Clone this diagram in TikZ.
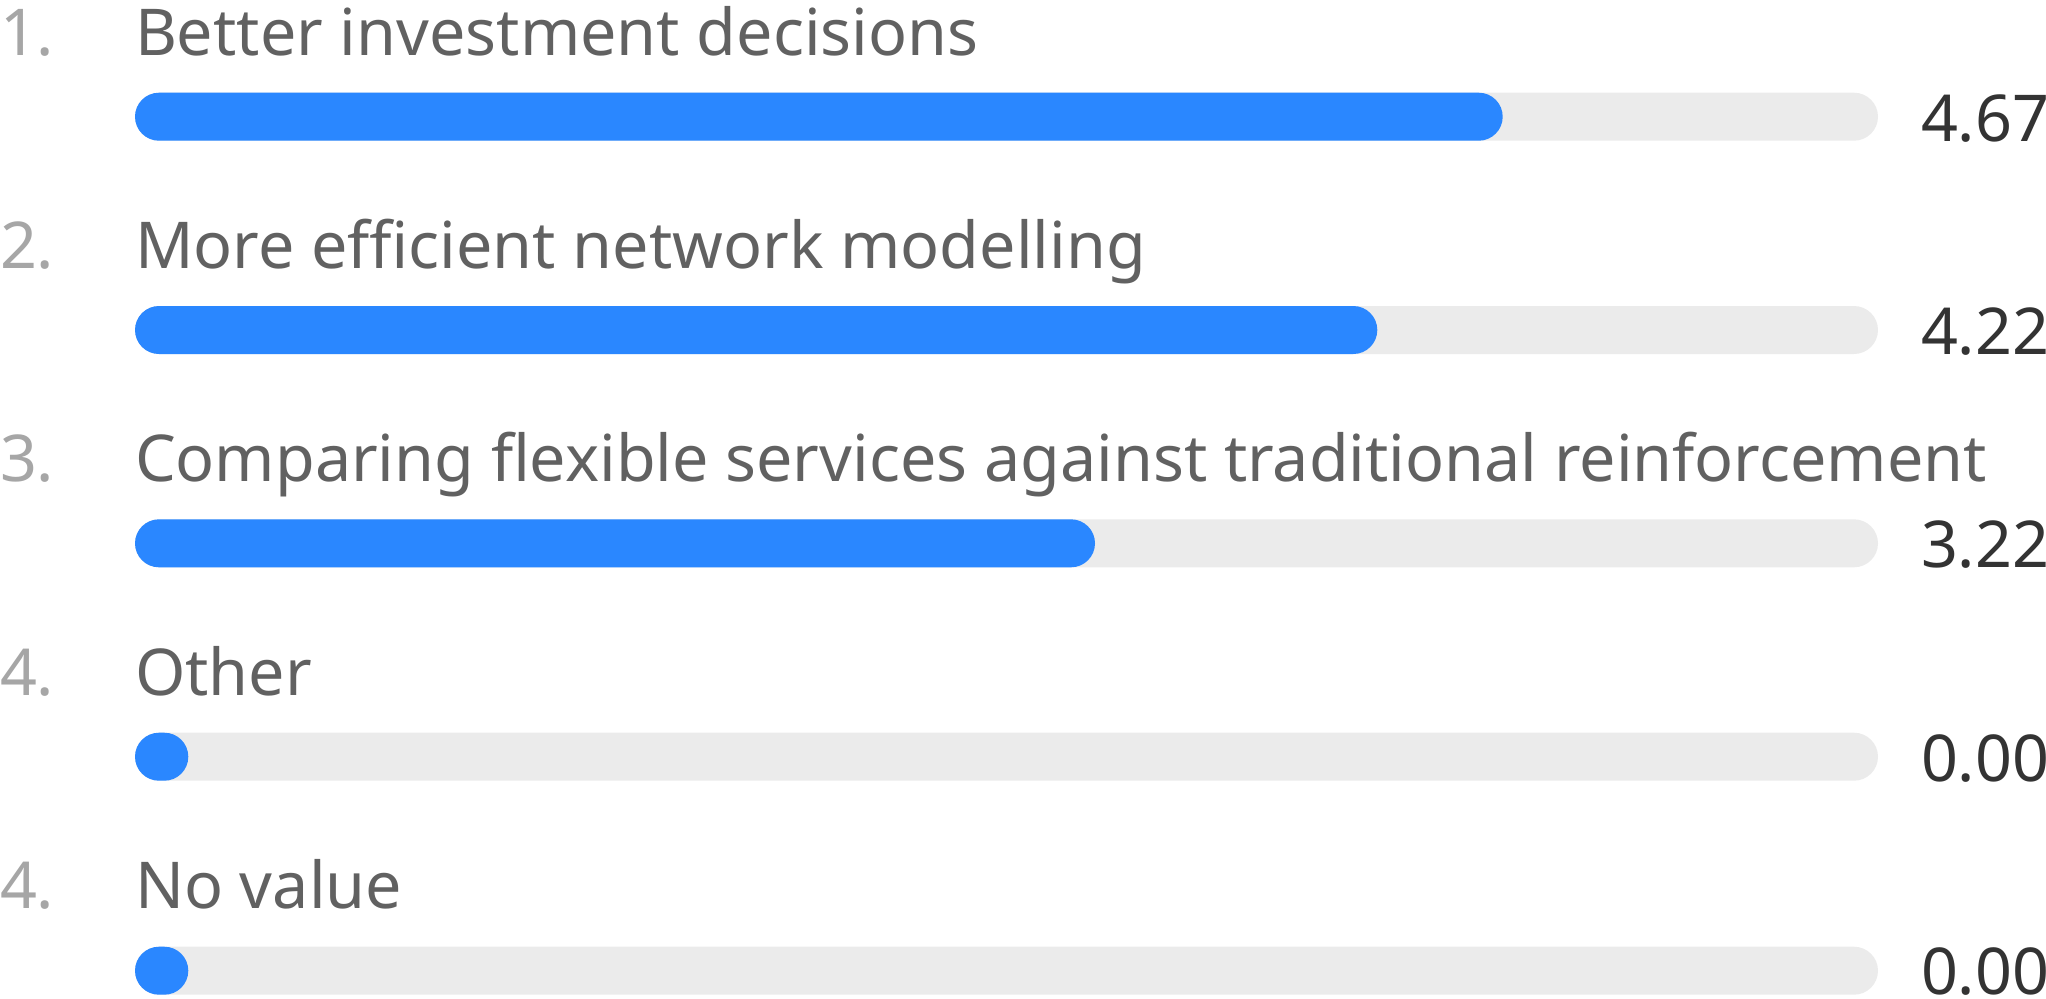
\documentclass[tikz,border=0pt]{standalone}
\usepackage{fontspec}
\setmainfont{Noto Sans}
\definecolor{barblue}{RGB}{42,135,255}
\definecolor{bargray}{RGB}{235,235,235}
\definecolor{labgray}{RGB}{97,97,97}
\definecolor{numgray}{RGB}{166,166,166}
\definecolor{valgray}{RGB}{51,51,51}
\begin{document}
\begin{tikzpicture}[x=0.5pt,y=-0.5pt,
  txt/.style={inner sep=0pt,outer sep=0pt,anchor=base west,font=\fontsize{32.3pt}{39pt}\selectfont},
  lab/.style={txt,text=labgray},
  num/.style={txt,text=numgray},
  val/.style={txt,text=valgray},
  track/.style={fill=bargray,rounded corners=12pt},
  fillbar/.style={fill=barblue,rounded corners=12pt}]
\useasboundingbox (0,0) rectangle (2046,998);
\clip (0,0) rectangle (2046,998);
% row 1
\node[num] (n1) at (0,55) {1.};
\node[lab] (l1) at (135,55) {Better investment decisions};
\fill[track] (135,92.7) rectangle (1878,140.7);
\fill[fillbar] (135,92.7) rectangle (1502.7,140.7);
\node[val] (v1) at (1921,141) {4.67};
% row 2
\node[num] (n2) at (0,268.3) {2.};
\node[lab] (l2) at (135,268.3) {More efficient network modelling};
\fill[track] (135,306) rectangle (1878,354);
\fill[fillbar] (135,306) rectangle (1377.3,354);
\node[val] (v2) at (1921,354.3) {4.22};
% row 3
\node[num] (n3) at (0,481.7) {3.};
\node[lab] (l3) at (135,481.7) {Comparing flexible services against traditional reinforcement};
\fill[track] (135,519.3) rectangle (1878,567.3);
\fill[fillbar] (135,519.3) rectangle (1095,567.3);
\node[val] (v3) at (1921,567.6) {3.22};
% row 4
\node[num] (n4) at (0,695) {4.};
\node[lab] (l4) at (135,695) {Other};
\fill[track] (135,732.7) rectangle (1878,780.7);
\fill[fillbar] (135,732.7) rectangle (188.3,780.7);
\node[val] (v4) at (1921,781) {0.00};
% row 5
\node[num] (n5) at (0,908.3) {4.};
\node[lab] (l5) at (135,908.3) {No value};
\fill[track] (135,946.7) rectangle (1878,994.7);
\fill[fillbar] (135,946.7) rectangle (188.3,994.7);
\node[val] (v5) at (1921,994.3) {0.00};
\end{tikzpicture}
\end{document}
